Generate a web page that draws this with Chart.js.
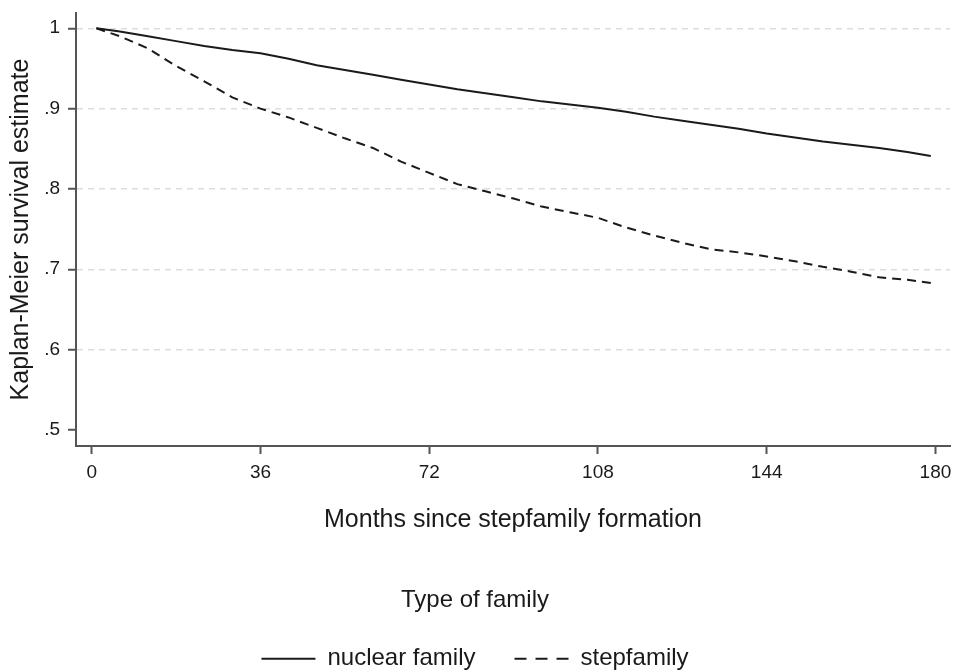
<!DOCTYPE html>
<html>
<head>
<meta charset="utf-8">
<script src="https://cdn.jsdelivr.net/npm/chart.js@4"></script>
<style>
  html, body { margin: 0; padding: 0; background: #fff; }
  #wrap { width: 955px; height: 671px; }
</style>
</head>
<body>
<div id="wrap"><canvas id="kmChart" width="955" height="671"></canvas></div>
<script>
// Kaplan-Meier estimates (months since stepfamily formation)
const months = [1, 6, 12, 18, 24, 30, 36, 42, 48, 54, 60, 66, 72, 78, 84, 90, 96, 102, 108, 114, 120, 126, 132, 138, 144, 150, 156, 162, 168, 174, 179];
const nuclearSurv = [1.000, 0.996, 0.990, 0.984, 0.978, 0.973, 0.969, 0.962, 0.954, 0.948, 0.942, 0.936, 0.930, 0.924, 0.919, 0.914, 0.909, 0.905, 0.901, 0.896, 0.890, 0.885, 0.880, 0.875, 0.869, 0.864, 0.859, 0.855, 0.851, 0.846, 0.841];
const stepSurv = [1.000, 0.990, 0.975, 0.953, 0.934, 0.914, 0.900, 0.889, 0.876, 0.863, 0.851, 0.834, 0.820, 0.806, 0.797, 0.788, 0.778, 0.771, 0.764, 0.752, 0.742, 0.733, 0.725, 0.721, 0.716, 0.710, 0.703, 0.697, 0.690, 0.687, 0.683];
const seriesNames = ['nuclear family', 'stepfamily'];
const xTicks = [0, 36, 72, 108, 144, 180];
const yTicks = [0.5, 0.6, 0.7, 0.8, 0.9, 1];

const FONT = "'Liberation Sans', Arial, sans-serif";
const INK = '#1a1a1a';
const AXIS = '#555555';

const toPoints = vals => vals.map((v, i) => ({ x: months[i], y: v }));

const ctx = document.getElementById('kmChart').getContext('2d');
const myChart = new Chart(ctx, {
    type: 'line',
    data: {
        datasets: [
            { label: seriesNames[0], data: toPoints(nuclearSurv), borderColor: INK, borderWidth: 2, pointRadius: 0, fill: false, tension: 0 },
            { label: seriesNames[1], data: toPoints(stepSurv), borderColor: INK, borderWidth: 2, borderDash: [9, 6], pointRadius: 0, fill: false, tension: 0 }
        ]
    },
    options: {
        responsive: false,
        animation: false,
        layout: { padding: { top: 13, right: 5, left: 0, bottom: 0 } },
        scales: {
            x: {
                type: 'linear',
                min: -3.35, max: 183.1,
                afterBuildTicks: scale => { scale.ticks = xTicks.map(v => ({ value: v })); },
                afterFit: scale => { scale.height = 94; scale.paddingLeft = 0; scale.paddingRight = 0; },
                ticks: { color: INK, font: { family: FONT, size: 19 }, padding: 7, maxRotation: 0 },
                grid: { drawOnChartArea: false, drawTicks: true, tickLength: 8, tickColor: AXIS, tickWidth: 2 },
                border: { display: true, color: AXIS, width: 2 },
                title: { display: true, text: 'Months since stepfamily formation', color: INK, font: { family: FONT, size: 25 }, padding: { top: 0, bottom: 5 } }
            },
            y: {
                min: 0.48, max: 1.019,
                afterBuildTicks: scale => { scale.ticks = yTicks.map(v => ({ value: v })); },
                afterFit: scale => { scale.width = 76; scale.paddingTop = 0; scale.paddingBottom = 0; },
                ticks: {
                    color: INK, font: { family: FONT, size: 19 }, padding: 8,
                    callback: v => (v === 1 ? '1' : v.toFixed(1).replace(/^0/, ''))
                },
                grid: {
                    color: c => (c.tick && c.tick.value === 0.5 ? 'rgba(0,0,0,0)' : '#dddddd'),
                    lineWidth: 1.5, tickLength: 8, tickColor: AXIS, tickWidth: 2
                },
                border: { display: true, color: AXIS, width: 2, dash: [6, 5] },
                title: { display: true, text: 'Kaplan-Meier survival estimate', color: INK, font: { family: FONT, size: 25 }, padding: { top: 6, bottom: 0 } }
            }
        },
        plugins: {
            tooltip: { enabled: false },
            legend: {
                display: true, position: 'bottom', maxHeight: 131,
                title: { display: true, text: 'Type of family', color: INK, font: { family: FONT, size: 24 }, padding: { top: 48, bottom: -9 } },
                labels: {
                    color: INK, font: { family: FONT, size: 24 }, padding: 39,
                    usePointStyle: true, pointStyle: 'line', pointStyleWidth: 54,
                    generateLabels: function(chart) {
                        const labels = Chart.defaults.plugins.legend.labels.generateLabels.call(this, chart);
                        labels.forEach(l => {
                            l.pointStyle = 'line';
                            l.lineWidth = 2;
                            l.lineDash = l.datasetIndex === 1 ? [12, 9] : [];
                        });
                        return labels;
                    }
                }
            }
        }
    }
});
</script>
</body>
</html>
